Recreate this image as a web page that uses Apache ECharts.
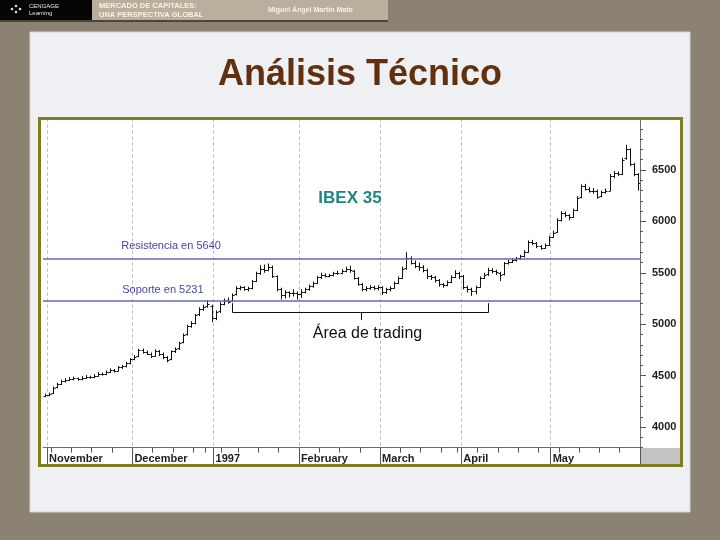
<!DOCTYPE html>
<html><head><meta charset="utf-8">
<script src="https://cdn.jsdelivr.net/npm/echarts@6/dist/echarts.min.js"></script>
<style>html,body{margin:0;padding:0;background:#8c8271}#c{width:720px;height:540px}</style>
</head><body><div id="c"></div>
<script>
// ---------- data ----------
const monthKeys = ['1996-10','1996-11','1996-12','1997-01','1997-02','1997-03','1997-04','1997-05'];
const monthLabels = ['', 'November', 'December', '1997', 'February', 'March', 'April', 'May'];
const monthDays = [
  [31],
  [1,4,5,6,7,8,11,12,13,14,15,18,19,20,21,22,25,26,27,28,29],
  [2,3,4,5,6,9,10,11,12,13,16,17,18,19,20,23,24,27,30,31],
  [2,3,7,8,9,10,13,14,15,16,17,20,21,22,23,24,27,28,29,30,31],
  [3,4,5,6,7,10,11,12,13,14,17,18,19,20,21,24,25,26,27,28],
  [3,4,5,6,7,10,11,12,13,14,17,18,19,20,21,24,25,26,27,31],
  [1,2,3,4,7,8,9,10,11,14,15,16,17,18,21,22,23,24,25,28,29,30],
  [1,2,5,6,7,8,9,12,13,14,15,16,19,20,21,22,23,26,27,28,29,30]
];
// IBEX 35 daily bars: [open, close, low, high]
const ohlc = [
  [4300,4310,4290,4325],[4310,4320,4300,4335],[4330,4380,4320,4395],[4385,4420,4375,4430],
  [4420,4445,4410,4460],[4450,4460,4435,4475],[4460,4470,4450,4485],[4470,4475,4455,4490],
  [4475,4465,4450,4480],[4465,4480,4455,4495],[4480,4490,4470,4505],[4490,4485,4470,4500],
  [4485,4500,4475,4515],[4500,4520,4490,4535],[4520,4515,4500,4530],[4515,4535,4505,4550],
  [4535,4555,4525,4570],[4555,4545,4530,4565],[4545,4580,4540,4595],[4580,4590,4565,4605],
  [4590,4620,4580,4635],[4620,4660,4610,4670],[4660,4685,4650,4700],[4690,4745,4680,4760],
  [4745,4730,4715,4765],[4730,4715,4700,4745],[4715,4690,4670,4725],[4695,4740,4685,4755],
  [4740,4715,4690,4750],[4715,4680,4660,4725],[4680,4650,4630,4690],[4660,4735,4650,4745],
  [4735,4760,4720,4775],[4765,4820,4750,4830],[4825,4900,4815,4910],[4905,4980,4890,4995],
  [4980,5010,4965,5030],[5015,5090,5000,5100],[5095,5150,5080,5165],[5150,5170,5130,5190],
  [5175,5200,5160,5235],[5180,5060,5020,5190],[5060,5120,5040,5135],[5125,5200,5110,5215],
  [5200,5230,5185,5250],[5235,5220,5200,5260],[5225,5285,5215,5300],[5290,5355,5280,5370],
  [5355,5360,5330,5375],[5360,5345,5325,5370],[5345,5350,5320,5365],[5355,5420,5340,5430],
  [5425,5500,5410,5510],[5500,5540,5480,5575],[5540,5530,5500,5580],[5530,5560,5515,5590],
  [5555,5470,5450,5570],[5465,5340,5320,5475],[5340,5280,5240,5355],[5285,5310,5250,5330],
  [5310,5300,5260,5320],[5300,5305,5270,5340],[5305,5290,5240,5320],[5295,5315,5255,5340],
  [5315,5340,5300,5355],[5340,5370,5325,5385],[5370,5400,5355,5415],[5405,5455,5390,5470],
  [5455,5480,5440,5500],[5480,5470,5455,5495],[5470,5475,5455,5490],[5475,5495,5465,5510],
  [5495,5500,5480,5520],[5500,5515,5490,5535],[5515,5540,5505,5560],[5540,5525,5500,5570],
  [5520,5450,5435,5530],[5450,5390,5375,5460],[5390,5340,5320,5400],[5340,5350,5320,5370],
  [5350,5360,5335,5380],[5360,5355,5330,5375],[5355,5360,5330,5380],[5360,5310,5285,5370],
  [5310,5340,5295,5355],[5340,5355,5320,5370],[5355,5400,5345,5415],[5400,5450,5390,5465],
  [5450,5540,5440,5560],[5545,5640,5530,5700],[5640,5600,5580,5660],[5600,5570,5545,5620],
  [5570,5560,5520,5600],[5560,5530,5505,5575],[5530,5465,5440,5540],[5465,5460,5430,5480],
  [5460,5430,5405,5470],[5430,5390,5365,5440],[5390,5380,5355,5400],[5380,5410,5370,5425],
  [5410,5460,5400,5475],[5460,5500,5450,5525],[5500,5470,5440,5510],[5470,5360,5340,5480],
  [5360,5345,5310,5375],[5345,5320,5275,5355],[5320,5360,5290,5375],[5365,5450,5355,5465],
  [5450,5480,5440,5500],[5485,5530,5470,5550],[5530,5515,5495,5545],[5515,5505,5480,5530],
  [5500,5480,5420,5510],[5485,5595,5475,5605],[5595,5610,5580,5625],[5610,5625,5595,5640],
  [5625,5640,5610,5655],[5640,5660,5625,5675],[5665,5700,5650,5720],[5705,5800,5695,5815],
  [5800,5790,5770,5820],[5790,5760,5740,5800],[5760,5745,5725,5770],[5745,5770,5735,5785],
  [5775,5850,5765,5860],[5850,5890,5840,5910],[5900,6010,5890,6030],[6010,6080,6000,6100],
  [6080,6060,6040,6095],[6060,6045,6010,6070],[6045,6110,6035,6125],[6115,6230,6100,6245],
  [6235,6340,6225,6360],[6340,6320,6300,6365],[6320,6300,6280,6335],[6300,6300,6270,6325],
  [6300,6240,6220,6310],[6245,6285,6235,6300],[6285,6300,6270,6320],[6300,6440,6295,6460],
  [6440,6470,6420,6490],[6470,6460,6440,6485],[6460,6600,6450,6620],[6620,6700,6600,6745],
  [6700,6560,6540,6710],[6560,6460,6440,6570],[6460,6370,6300,6470]
];
const resistance = 5640;
const support = 5231;
const topMark = 6790;
const yTicks = [4000, 4500, 5000, 5500, 6000, 6500];
const bracketFrom = 46, bracketTo = 109;

// ---------- derived categories ----------
const categories = [], monthStart = [], weekStart = [], labelAt = {};
let prevDow = -1, prevT = null;
monthKeys.forEach((mk, mi) => {
  const [y, m] = mk.split('-').map(Number);
  monthDays[mi].forEach((d, di) => {
    const idx = categories.length;
    categories.push(mk + '-' + String(d).padStart(2, '0'));
    const t = Date.UTC(y, m - 1, d);
    const dow = new Date(t).getUTCDay();
    monthStart.push(di === 0 && monthLabels[mi] !== '');
    if (di === 0 && monthLabels[mi] !== '') labelAt[idx] = monthLabels[mi];
    weekStart.push(prevT !== null && (dow <= prevDow || (t - prevT) > 6 * 864e5));
    prevDow = dow; prevT = t;
  });
});

const FONT = 'Liberation Sans, Arial, sans-serif';
const chart = echarts.init(document.getElementById('c'), null, {width: 720, height: 540});

const option = {
  backgroundColor: '#8c8271',
  animation: false,
  grid: {left: 43, width: 597, top: 118.6, height: 329},
  xAxis: [{
    type: 'category', data: categories, position: 'bottom', boundaryGap: true,
    axisLine: {show: true, lineStyle: {color: '#6e6e6e', width: 1}},
    axisTick: {show: true, interval: (i) => weekStart[i] && !monthStart[i], length: 5, lineStyle: {color: '#555', width: 1}},
    axisLabel: {show: false},
    splitLine: {show: true, interval: (i) => monthStart[i], lineStyle: {color: '#b9b9b9', type: [3, 3], width: 1}}
  }, {
    type: 'category', data: categories, position: 'bottom', boundaryGap: true,
    axisLine: {show: false},
    axisTick: {show: true, interval: (i) => monthStart[i], length: 17, lineStyle: {color: '#555', width: 1}},
    axisLabel: {show: true, interval: (i) => monthStart[i], formatter: (v, i) => labelAt[i] || '',
      align: 'left', margin: 6, fontFamily: FONT, fontSize: 11, fontWeight: 'bold', color: '#1e1e1e'},
    splitLine: {show: false}
  }],
  yAxis: [{
    type: 'value', min: 3800, max: 7000, position: 'right',
    axisLine: {show: true, lineStyle: {color: '#6e6e6e'}},
    axisTick: {show: true, customValues: yTicks, length: 6, lineStyle: {color: '#555'}},
    axisLabel: {show: true, customValues: yTicks, formatter: (v) => String(v), margin: 12,
      fontFamily: FONT, fontSize: 11, fontWeight: 'bold', color: '#1e1e1e'},
    splitLine: {show: false}
  }, {
    type: 'value', min: 3800, max: 7000, interval: 100, position: 'right',
    axisLine: {show: false},
    axisTick: {show: true, length: 3, lineStyle: {color: '#555'}},
    axisLabel: {show: false},
    splitLine: {show: false}
  }],
  series: [{
    type: 'custom', name: 'IBEX 35', xAxisIndex: 0, yAxisIndex: 0, clip: true,
    data: ohlc.map((d, i) => [i, d[0], d[1], d[2], d[3]]),
    encode: {x: 0, y: [1, 2, 3, 4]},
    renderItem: (params, api) => {
      const i = api.value(0);
      const o = api.coord([i, api.value(1)]);
      const c = api.coord([i, api.value(2)]);
      const l = api.coord([i, api.value(3)]);
      const h = api.coord([i, api.value(4)]);
      const px = Math.round(o[0]) + 0.5;
      const st = {stroke: '#111', lineWidth: 1};
      return {type: 'group', children: [
        {type: 'line', shape: {x1: px, y1: h[1], x2: px, y2: l[1]}, style: st},
        {type: 'line', shape: {x1: px - 2, y1: Math.round(o[1]) + 0.5, x2: px, y2: Math.round(o[1]) + 0.5}, style: st},
        {type: 'line', shape: {x1: px, y1: Math.round(c[1]) + 0.5, x2: px + 2, y2: Math.round(c[1]) + 0.5}, style: st}
      ]};
    },
    markLine: {
      silent: true, symbol: ['none', 'none'], label: {show: false},
      lineStyle: {color: '#6767b4', width: 1.5, type: 'solid'},
      data: [
        {yAxis: resistance},
        {yAxis: support},
        [{coord: [143.5, topMark]}, {coord: [146.5, topMark]}]
      ]
    }
  }]
};
chart.setOption(option);

const P = (i, v) => chart.convertToPixel({gridIndex: 0}, [i, v]);
const rY = P(0, resistance)[1], sY = P(0, support)[1];
const lblX = P(19, 5000)[0] - 1;
const bx1 = Math.round(P(bracketFrom, 5000)[0]) + 0.5;
const bx2 = Math.round(P(bracketTo, 5000)[0]) + 0.5;
const bTop = P(0, 5205)[1], bBot = Math.round(P(0, 5118)[1]) + 0.5, bTick = P(0, 5040)[1];
const bMid = Math.round((bx1 + bx2) / 2) + 0.5;

chart.setOption({graphic: [
  // header
  {type: 'rect', z: -100, shape: {x: 0, y: 0, width: 92, height: 20}, style: {fill: '#050505'}},
  {type: 'rect', z: -100, shape: {x: 92, y: 0, width: 296, height: 20}, style: {fill: '#b9af9c'}},
  {type: 'rect', z: -100, shape: {x: 0, y: 20, width: 388, height: 2}, style: {fill: '#4d453a'}},
  {type: 'circle', z: -99, shape: {cx: 12, cy: 9, r: 1.3}, style: {fill: '#ddd'}},
  {type: 'circle', z: -99, shape: {cx: 16, cy: 6, r: 1.3}, style: {fill: '#ddd'}},
  {type: 'circle', z: -99, shape: {cx: 16, cy: 12, r: 1.3}, style: {fill: '#ddd'}},
  {type: 'circle', z: -99, shape: {cx: 20, cy: 9, r: 1.3}, style: {fill: '#ddd'}},
  {type: 'text', z: -99, style: {x: 29, y: 6, text: 'CENGAGE', fill: '#e6e6e6', font: '6px ' + FONT, textVerticalAlign: 'middle'}},
  {type: 'text', z: -99, style: {x: 29, y: 13.5, text: 'Learning', fill: '#e6e6e6', font: '6px ' + FONT, textVerticalAlign: 'middle'}},
  {type: 'text', z: -99, style: {x: 99, y: 5.5, text: 'MERCADO DE CAPITALES:', fill: '#f7f3e6', font: 'bold 7.5px ' + FONT, textVerticalAlign: 'middle'}},
  {type: 'text', z: -99, style: {x: 99, y: 14.5, text: 'UNA PERSPECTIVA GLOBAL', fill: '#f7f3e6', font: 'bold 7.5px ' + FONT, textVerticalAlign: 'middle'}},
  {type: 'text', z: -99, style: {x: 268, y: 10, text: 'Miguel Ángel Martín Mato', fill: '#f7f3e6', font: 'bold 7px ' + FONT, textVerticalAlign: 'middle'}},
  // slide panel
  {type: 'rect', z: -100, shape: {x: 30, y: 32, width: 660, height: 480}, style: {fill: '#eef0f3', stroke: '#d6d6d6', lineWidth: 1}},
  {type: 'text', z: -99, style: {x: 360, y: 75, text: 'Análisis Técnico', fill: '#62300e', font: 'bold 36px ' + FONT, textAlign: 'center', textVerticalAlign: 'middle'}},
  // chart frame
  {type: 'rect', z: -98, shape: {x: 39.5, y: 118.5, width: 642, height: 347}, style: {fill: '#ffffff'}},
  {type: 'rect', z: 1, shape: {x: 641, y: 448, width: 39.5, height: 17}, style: {fill: '#c4c4c4'}},
  {type: 'rect', z: 100, shape: {x: 39.5, y: 118.5, width: 642, height: 347}, style: {fill: 'none', stroke: '#7f7d1e', lineWidth: 3}},
  // annotations
  {type: 'text', z: 10, style: {x: 350, y: 198, text: 'IBEX 35', fill: '#1f8585', font: 'bold 17px ' + FONT, textAlign: 'center', textVerticalAlign: 'middle'}},
  {type: 'text', z: 10, style: {x: lblX, y: rY - 12, text: 'Resistencia en 5640', fill: '#4646a8', font: '11px ' + FONT, textVerticalAlign: 'middle'}},
  {type: 'text', z: 10, style: {x: lblX + 1, y: sY - 11, text: 'Soporte en 5231', fill: '#4646a8', font: '11px ' + FONT, textVerticalAlign: 'middle'}},
  {type: 'polyline', z: 10, shape: {points: [[bx1, bTop], [bx1, bBot], [bx2, bBot], [bx2, bTop]]}, style: {stroke: '#111', lineWidth: 1, fill: null}},
  {type: 'line', z: 10, shape: {x1: bMid, y1: bBot, x2: bMid, y2: bTick}, style: {stroke: '#111', lineWidth: 1}},
  {type: 'text', z: 10, style: {x: bMid + 6, y: 334, text: 'Área de trading', fill: '#111', font: '16px ' + FONT, textAlign: 'center', textVerticalAlign: 'middle'}}
]});
</script>
</body></html>
